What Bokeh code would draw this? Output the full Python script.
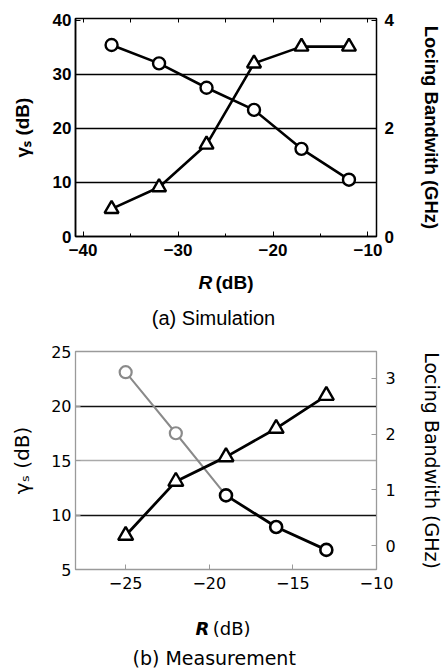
from bokeh.plotting import figure
from bokeh.layouts import column
from bokeh.models import Range1d, LinearAxis, FixedTicker, Grid
from bokeh.core.properties import value
from bokeh.embed import file_html
from bokeh.resources import INLINE

# ---- data: (a) Simulation ----
sim_R = [-37, -32, -27, -22, -17, -12]
sim_gamma = [35.4, 32.0, 27.5, 23.4, 16.2, 10.5]
sim_bw = [0.51, 0.91, 1.70, 3.20, 3.51, 3.51]
sim_xticks = [-40, -30, -20, -10]
sim_xminor = [-40, -35, -30, -25, -20, -15, -10]
sim_yticks = [0, 10, 20, 30, 40]
sim_bwticks = [0, 2, 4]

# ---- data: (b) Measurement ----
meas_R = [-25, -22, -19, -16, -13]
meas_gamma = [23.1, 17.5, 11.8, 8.9, 6.8]
meas_bw = [0.18, 1.15, 1.59, 2.10, 2.69]
meas_xticks = [-25, -20, -15, -10]
meas_yticks = [5, 10, 15, 20, 25]
meas_bwticks = [0, 1, 2, 3]

# ---- texts ----
gamma_label = "γₛ (dB)"
bw_label = "Locing Bandwith (GHz)"
x_sym = "R"
x_unit = "(dB)"
cap_a = "(a) Simulation"
cap_b = "(b) Measurement"

FONT_A = "Liberation Sans"
FONT_B = "DejaVu Sans"
W = 445


def style_axis(ax, font, bold, color="black", size="17px"):
    ax.major_label_text_font = font
    ax.major_label_text_font_size = size
    ax.major_label_text_font_style = "bold" if bold else "normal"
    ax.major_label_text_color = "black"
    ax.axis_label_text_font = font
    ax.axis_label_text_font_style = "bold" if bold else "normal"
    ax.axis_label_text_color = "black"
    ax.axis_line_color = color
    ax.major_tick_line_color = color
    ax.minor_tick_line_color = color
    ax.major_tick_in = 5
    ax.major_tick_out = 0
    ax.minor_tick_in = 3
    ax.minor_tick_out = 0


def caption_fig(height, font, unit_style, size_xl, size_cap, y_xl, y_cap, x_r, x_cap, cap):
    c = figure(width=W, height=height, output_backend="svg", toolbar_location=None,
               x_range=Range1d(0, W), y_range=Range1d(0, height),
               x_axis_type=None, y_axis_type=None,
               min_border_left=0, min_border_right=0, min_border_top=0,
               min_border_bottom=0)
    c.outline_line_color = None
    c.text(x=[x_r], y=[y_xl], text=[x_sym], text_font=value(font),
           text_font_style="bold italic", text_font_size=size_xl,
           text_align="right", text_baseline="middle", text_color="black")
    c.text(x=[x_r + 5], y=[y_xl], text=[x_unit], text_font=value(font),
           text_font_style=unit_style, text_font_size=size_xl,
           text_align="left", text_baseline="middle", text_color="black")
    c.text(x=[x_cap], y=[y_cap], text=[cap], text_font=value(font),
           text_font_size=size_cap, text_align="center",
           text_baseline="middle", text_color="black")
    return c


# ================= (a) Simulation =================
p1 = figure(width=W, height=266, output_backend="svg", toolbar_location=None,
            x_range=Range1d(-40.8, -9.1), y_range=Range1d(0, 40.3),
            min_border_left=75, min_border_right=63, min_border_top=18,
            min_border_bottom=30)
p1.extra_y_ranges = {"bw": Range1d(0, 4.03)}
p1.outline_line_color = "black"
p1.outline_line_width = 1.5
p1.xgrid.visible = False
p1.ygrid.visible = False

p1.xaxis.ticker = FixedTicker(ticks=sim_xticks, minor_ticks=sim_xminor)
p1.yaxis.ticker = FixedTicker(ticks=sim_yticks)
p1.yaxis.axis_label = gamma_label
for ax in p1.xaxis + p1.yaxis:
    style_axis(ax, FONT_A, True)
    ax.axis_line_width = 1.5
p1.xaxis.major_label_standoff = 7
p1.yaxis.major_label_standoff = 4
p1.yaxis.axis_label_text_font_size = "19px"
p1.yaxis.axis_label_standoff = 17

ax_r1 = LinearAxis(y_range_name="bw", ticker=FixedTicker(ticks=sim_bwticks, minor_ticks=[1, 3]),
                   axis_label=bw_label)
style_axis(ax_r1, FONT_A, True)
ax_r1.axis_label_text_font_size = "18.5px"
ax_r1.major_label_standoff = 8
ax_r1.axis_label_standoff = 24
p1.add_layout(ax_r1, "right")

# top frame: minor ticks only, no labels
ax_t1 = LinearAxis(ticker=FixedTicker(ticks=[], minor_ticks=sim_xminor))
style_axis(ax_t1, FONT_A, True)
ax_t1.minor_tick_in = 4
p1.add_layout(ax_t1, "above")

g1 = Grid(dimension=1, ticker=FixedTicker(ticks=[10, 20, 30]),
          grid_line_color="black", grid_line_width=1.6)
p1.add_layout(g1)

p1.line(sim_R, sim_gamma, line_color="black", line_width=2.6)
p1.scatter(sim_R, sim_gamma, marker="circle", size=12, fill_color="white",
           line_color="black", line_width=2.4)
p1.line(sim_R, sim_bw, y_range_name="bw", line_color="black", line_width=2.6)
p1.scatter(sim_R, sim_bw, y_range_name="bw", marker="triangle", size=14,
           fill_color="white", line_color="black", line_width=2.4)

c1 = caption_fig(64, FONT_A, "bold", "19px", "20px", 48, 13, 202, 204, cap_a)

# ================= (b) Measurement =================
p2 = figure(width=W, height=270, output_backend="svg", toolbar_location=None,
            x_range=Range1d(-28, -10), y_range=Range1d(5, 25),
            min_border_left=72, min_border_right=67, min_border_top=21,
            min_border_bottom=31)
p2.extra_y_ranges = {"bw": Range1d(-0.43, 3.48)}
p2.outline_line_color = "#9a9a9a"
p2.outline_line_width = 1.3
p2.xgrid.visible = False
p2.ygrid.visible = False

p2.xaxis.ticker = FixedTicker(ticks=meas_xticks)
p2.yaxis.ticker = FixedTicker(ticks=meas_yticks)
p2.yaxis.axis_label = gamma_label
for ax in p2.xaxis + p2.yaxis:
    style_axis(ax, FONT_B, False, color="#9a9a9a", size="16px")
p2.xaxis.major_label_standoff = 7
p2.yaxis.major_label_standoff = 4
p2.yaxis.axis_label_text_font_size = "20px"
p2.yaxis.axis_label_standoff = 14

ax_r2 = LinearAxis(y_range_name="bw", ticker=FixedTicker(ticks=meas_bwticks),
                   axis_label=bw_label)
style_axis(ax_r2, FONT_B, False, color="#9a9a9a", size="16px")
ax_r2.axis_label_text_font_size = "19px"
ax_r2.major_label_standoff = 9
ax_r2.axis_label_standoff = 22
p2.add_layout(ax_r2, "right")

g2a = Grid(dimension=1, ticker=FixedTicker(ticks=[10, 20]),
           grid_line_color="#111111", grid_line_width=1.4)
g2b = Grid(dimension=1, ticker=FixedTicker(ticks=[15]),
           grid_line_color="#aaaaaa", grid_line_width=1.4)
p2.add_layout(g2a)
p2.add_layout(g2b)

# grey first part of the gamma curve (faded in the original), black rest
p2.line(meas_R[:3], meas_gamma[:3], line_color="#8a8a8a", line_width=2.0)
p2.line(meas_R[2:], meas_gamma[2:], line_color="black", line_width=2.8)
p2.scatter(meas_R[:2], meas_gamma[:2], marker="circle", size=12, fill_color="white",
           line_color="#8a8a8a", line_width=2.2)
p2.scatter(meas_R[2:], meas_gamma[2:], marker="circle", size=12, fill_color="white",
           line_color="black", line_width=2.6)
p2.line(meas_R, meas_bw, y_range_name="bw", line_color="black", line_width=2.8)
p2.scatter(meas_R, meas_bw, y_range_name="bw", marker="triangle", size=15,
           fill_color="white", line_color="black", line_width=2.4)

c2 = caption_fig(71, FONT_B, "normal", "18px", "19px", 43, 14, 198, 205, cap_b)

layout = column(p1, c1, p2, c2, spacing=0)
open("out.html", "w").write(file_html(layout, INLINE))
